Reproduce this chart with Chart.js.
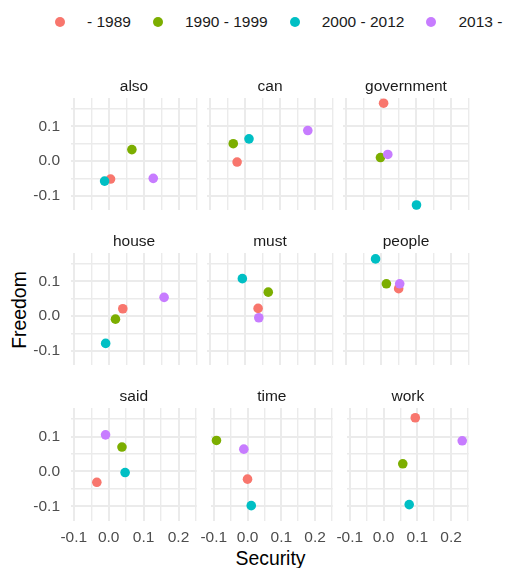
<!DOCTYPE html>
<html>
<head>
<meta charset="utf-8">
<script src="https://cdn.jsdelivr.net/npm/chart.js@4.4.1/dist/chart.umd.min.js"></script>
<style>
  body { margin: 0; background: #fff; font-family: 'Liberation Sans', Arial, sans-serif; }
  #wrap { position: relative; width: 507px; height: 568px; overflow: hidden; }
  #wrap canvas { position: absolute; }
  .legend { position: absolute; left: 55px; top: 12px; height: 20px; display: flex; align-items: center; font-size: 15.5px; color: #1a1a1a; white-space: nowrap; }
  .legend .key { width: 10px; height: 10px; border-radius: 50%; margin-right: 22px; }
  .legend .lab { margin-right: 22px; }
  .axis-title { position: absolute; width: 200px; line-height: 22px; text-align: center; font-size: 19.4px; color: #000; }
</style>
</head>
<body>
<div id="wrap">
  <div class="legend" id="legend"></div>
  <div class="axis-title" style="left:-80.7px; top:299px; transform:rotate(-90deg);">Freedom</div>
  <div class="axis-title" style="left:170.5px; top:547px;">Security</div>
</div>
<script>
var words = ['also', 'can', 'government', 'house', 'must', 'people', 'said', 'time', 'work'];
var periods = ['- 1989', '1990 - 1999', '2000 - 2012', '2013 -'];
var periodColors = ['#F8766D', '#7CAE00', '#00BFC4', '#C77CFF'];

// security (x) and freedom (y) for each word, one pair per period
var security1989 = [0.005, -0.022, 0.008, 0.040, 0.038, 0.051, -0.034, 0.000, 0.094];
var freedom1989 = [-0.052, -0.003, 0.167, 0.021, 0.022, 0.079, -0.031, -0.022, 0.154];
var security1990s = [0.066, -0.033, -0.001, 0.019, 0.067, 0.016, 0.038, -0.092, 0.057];
var freedom1990s = [0.033, 0.050, 0.010, -0.009, 0.069, 0.093, 0.070, 0.089, 0.022];
var security2000s = [-0.012, 0.012, 0.102, -0.009, -0.007, -0.015, 0.047, 0.011, 0.076];
var freedom2000s = [-0.058, 0.064, -0.127, -0.079, 0.108, 0.165, -0.003, -0.098, -0.095];
var security2013 = [0.127, 0.180, 0.020, 0.158, 0.040, 0.054, -0.009, -0.011, 0.233];
var freedom2013 = [-0.050, 0.088, 0.019, 0.054, -0.005, 0.093, 0.105, 0.064, 0.088];

var xTickValues = [-0.1, 0, 0.1, 0.2];
var yTickValues = [-0.1, 0, 0.1];
var xRange = [-0.108, 0.252];
var yRange = [-0.142, 0.182];

var securityByPeriod = [security1989, security1990s, security2000s, security2013];
var freedomByPeriod = [freedom1989, freedom1990s, freedom2000s, freedom2013];

var FONT = "'Liberation Sans', Arial, sans-serif";
Chart.defaults.font.family = FONT;

// legend
var legend = document.getElementById('legend');
periods.forEach(function(p, k) {
  var key = document.createElement('span');
  key.className = 'key';
  key.style.background = periodColors[k];
  var lab = document.createElement('span');
  lab.className = 'lab';
  lab.textContent = p;
  legend.appendChild(key);
  legend.appendChild(lab);
});

function isMajor(v) {
  return Math.abs(v * 10 - Math.round(v * 10)) < 1e-6;
}
function tickFormat(list) {
  return function(value) {
    var hit = list.some(function(v) { return Math.abs(v - value) < 1e-6; });
    if (!hit) return '';
    var r = Math.round(value * 10) / 10;
    return r === 0 ? '0.0' : r.toFixed(1);
  };
}
function gridWidth(ctx) {
  return ctx.tick && isMajor(ctx.tick.value) ? 2 : 1.4;
}

// 3x3 panels, each its own chart with a fixed plot area
var plotLeft = [71, 207, 343];
var plotTop = [98, 253, 408];
var plotW = 126, plotH = 113, stripH = 30;
var wrap = document.getElementById('wrap');

words.forEach(function(word, i) {
  var col = i % 3, row = Math.floor(i / 3);
  var first = col === 0, bottom = row === 2;
  var padL = first ? 0 : 14, axisW = first ? 71 : 0;
  var padB = bottom ? 0 : 4, axisH = bottom ? 32 : 0;

  var canvas = document.createElement('canvas');
  canvas.width = padL + axisW + plotW + 6;
  canvas.height = stripH + plotH + axisH + padB;
  canvas.style.left = (plotLeft[col] - padL - axisW) + 'px';
  canvas.style.top = (plotTop[row] - stripH) + 'px';
  wrap.appendChild(canvas);

  new Chart(canvas, {
    type: 'scatter',
    data: {
      datasets: periods.map(function(p, k) {
        return {
          label: p,
          data: [{ x: securityByPeriod[k][i], y: freedomByPeriod[k][i] }],
          backgroundColor: periodColors[k],
          borderWidth: 0,
          pointRadius: 4.8,
          pointHoverRadius: 4.8,
          order: periods.length - k
        };
      })
    },
    options: {
      responsive: false,
      animation: false,
      events: [],
      layout: { padding: { left: padL, right: 6, top: 0, bottom: padB } },
      plugins: {
        legend: { display: false },
        tooltip: { enabled: false },
        title: {
          display: true,
          text: word,
          fullSize: false,
          color: '#1a1a1a',
          font: { size: 15.5, weight: 'normal', family: FONT },
          padding: { top: 9.4, bottom: 2 }
        }
      },
      scales: {
        x: {
          type: 'linear',
          min: xRange[0],
          max: xRange[1],
          afterFit: function(s) { s.height = axisH; },
          ticks: {
            display: bottom,
            stepSize: 0.05,
            includeBounds: false,
            autoSkip: false,
            maxRotation: 0,
            padding: 7,
            color: '#4d4d4d',
            font: { size: 15.5, family: FONT },
            callback: tickFormat(xTickValues)
          },
          grid: { color: '#ebebeb', lineWidth: gridWidth, drawTicks: false },
          border: { display: false }
        },
        y: {
          type: 'linear',
          min: yRange[0],
          max: yRange[1],
          afterFit: function(s) {
            s.width = axisW;
            s.paddingTop = 0;
            s.paddingBottom = 0;
          },
          ticks: {
            display: first,
            stepSize: 0.05,
            includeBounds: false,
            autoSkip: false,
            padding: 11,
            color: '#4d4d4d',
            font: { size: 15.5, family: FONT },
            callback: tickFormat(yTickValues)
          },
          grid: { color: '#ebebeb', lineWidth: gridWidth, drawTicks: false },
          border: { display: false }
        }
      }
    }
  });
});
</script>
</body>
</html>
